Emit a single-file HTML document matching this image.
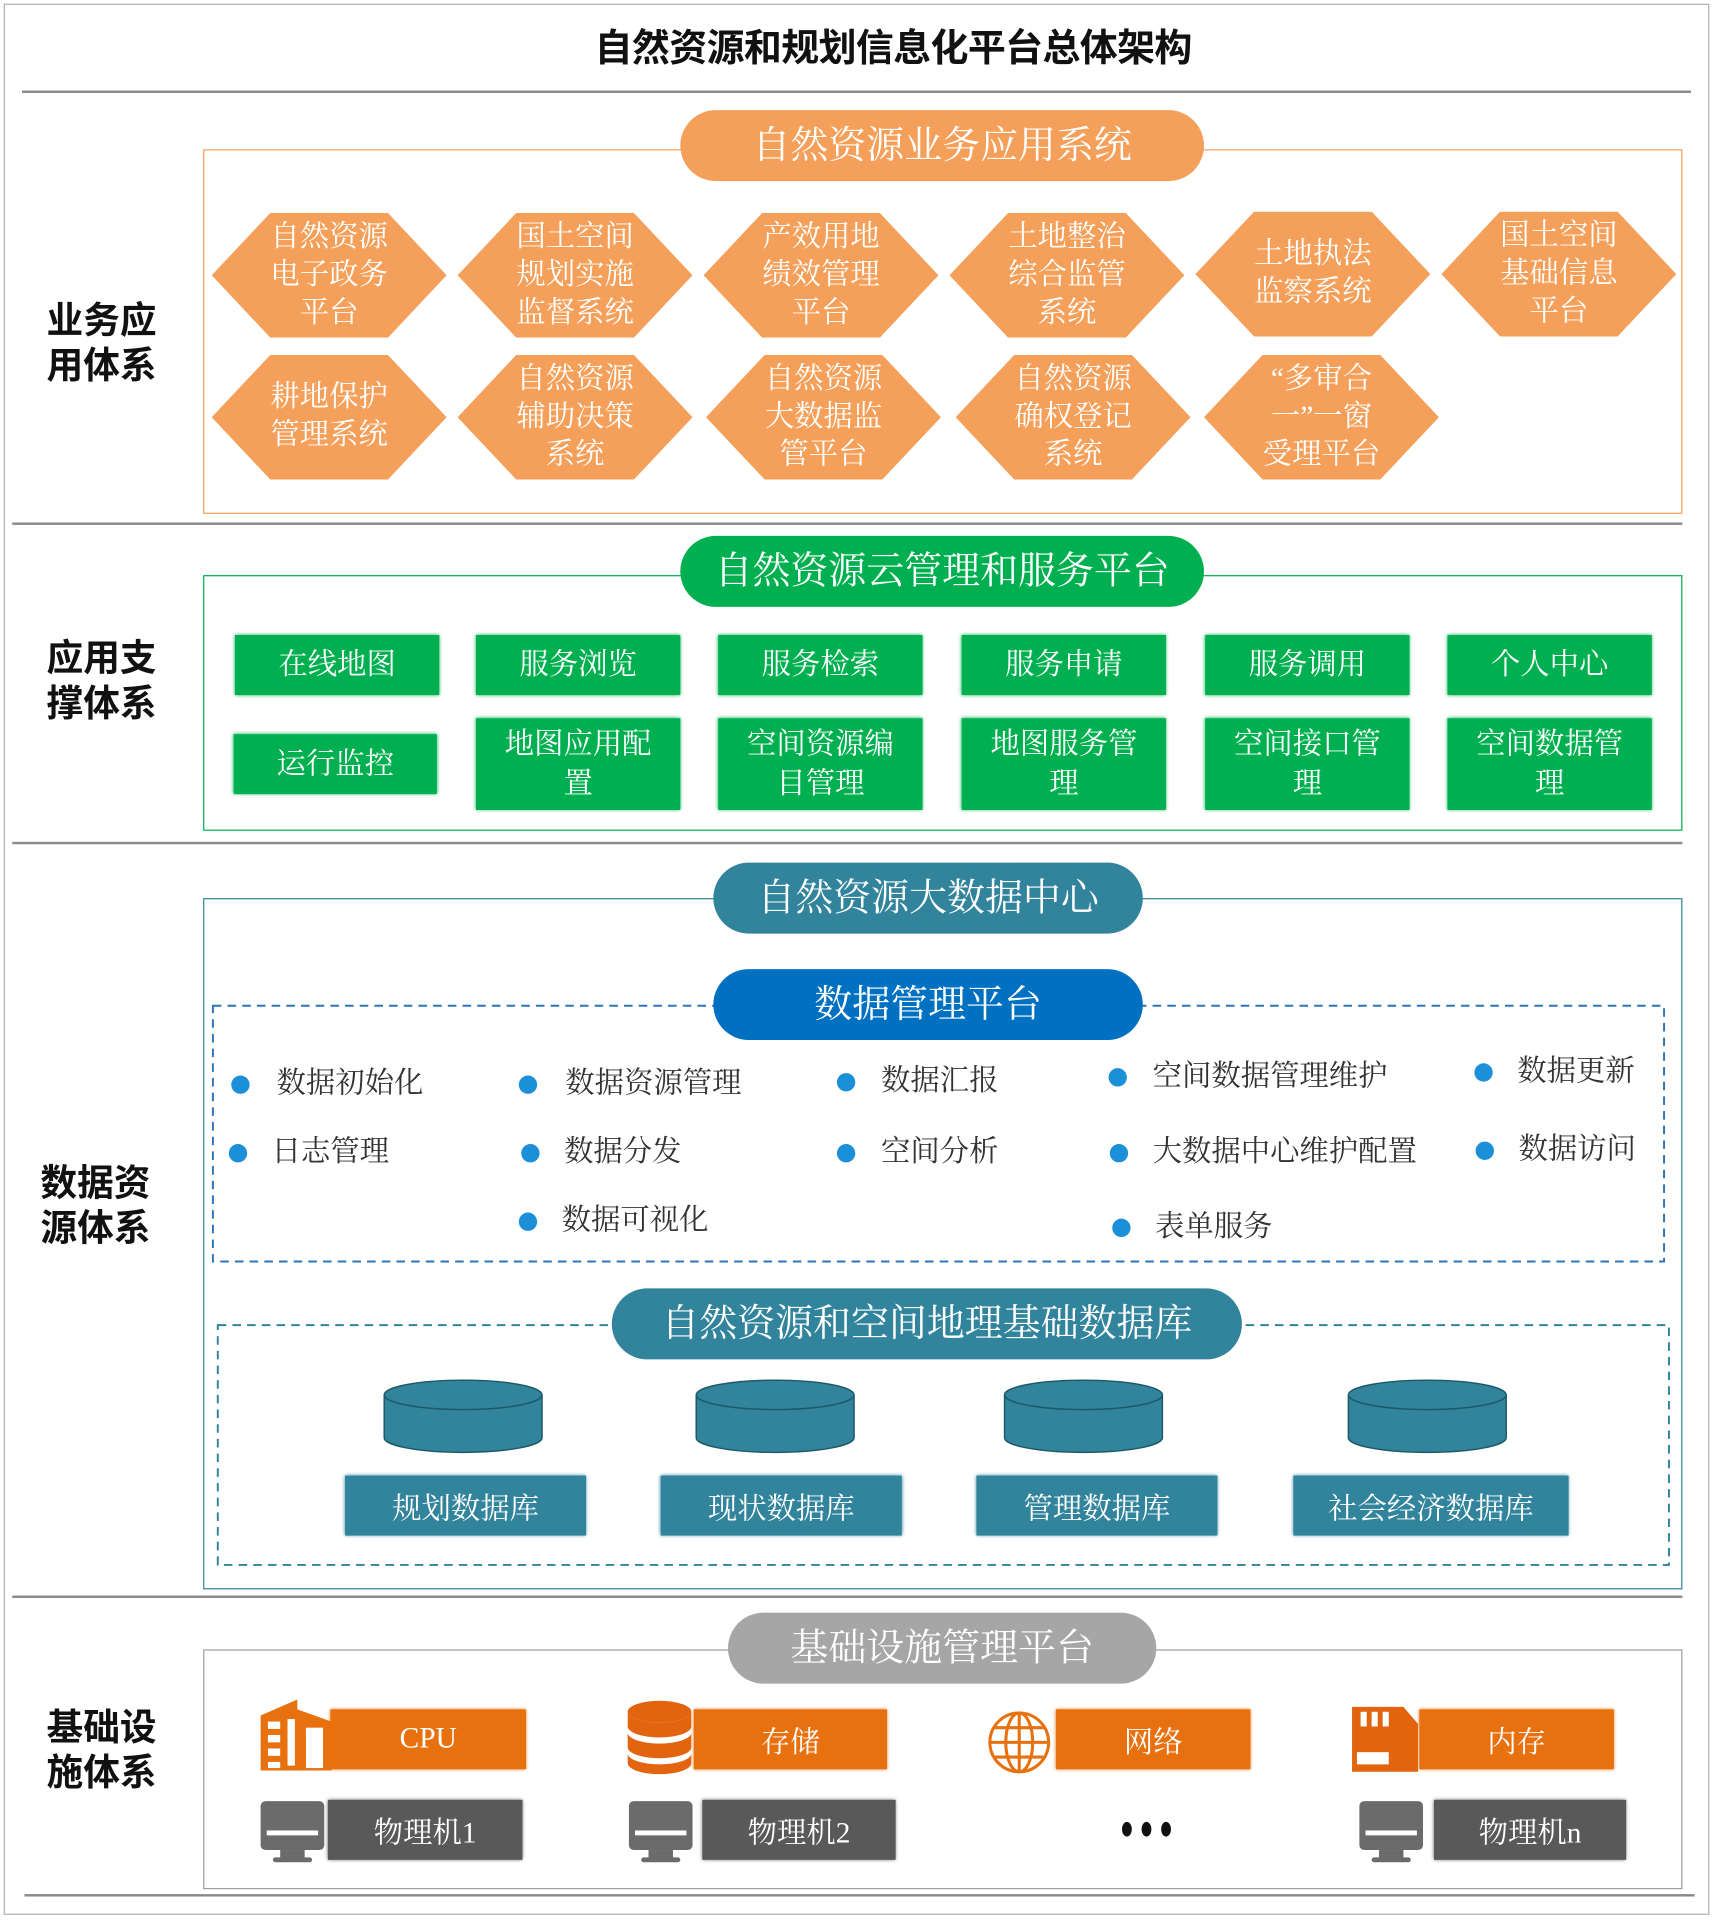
<!DOCTYPE html>
<html><head><meta charset="utf-8">
<style>
html,body{margin:0;padding:0;background:#fff;}
body{width:1713px;height:1920px;overflow:hidden;position:relative;}
#w{position:absolute;left:0;top:0;width:1400px;height:1570px;transform:scale(1.22357);transform-origin:0 0;}
#w div{position:absolute;box-sizing:border-box;}
.sr{font-family:"Liberation Serif","Noto Serif CJK SC",serif;}
.ss{font-family:"Liberation Sans","Noto Sans CJK SC",sans-serif;}
.line{height:2px;background:#8a8a8a;}
.lab{font-size:30px;font-weight:bold;line-height:37px;color:#111;}
.pill{border-radius:29px;color:#fff;font-size:31px;text-align:center;line-height:58px;height:58px;}
.hex{width:192px;height:102px;clip-path:polygon(25% 0,75% 0,100% 50%,75% 100%,25% 100%,0 50%);background:#f4a05a;color:#fff;font-size:24px;line-height:31px;display:flex;align-items:center;justify-content:center;text-align:center;}
.g{background:#00b050;color:#fff;font-size:24px;line-height:32px;display:flex;align-items:center;justify-content:center;text-align:center;box-shadow:0 0 3px #00b050;}
.dot{width:15px;height:15px;border-radius:50%;background:#1b8fd8;}
.it{font-size:24px;color:#333;line-height:30px;white-space:nowrap;}
.tl{background:#31849b;color:#fff;font-size:24px;display:flex;align-items:center;justify-content:center;box-shadow:0 0 3px #31849b;}
.or{background:#e8710f;color:#fff;font-size:24px;display:flex;align-items:center;justify-content:center;box-shadow:0 0 3px #e8710f;}
.gr{background:#595959;color:#fff;font-size:24px;display:flex;align-items:center;justify-content:center;box-shadow:0 0 3px #595959;}
</style></head><body><div id="w">
<div style="left:3px;top:3px;width:1394px;height:1562px;border:1.5px solid #b0b0b0;"></div>
<div class="ss" style="left:280px;top:19px;width:900px;text-align:center;font-size:31px;font-weight:bold;line-height:42px;color:#111;letter-spacing:-0.5px;">自然资源和规划信息化平台总体架构</div>
<div class="line" style="left:18px;top:74px;width:1364px;"></div>

<div class="ss lab" style="left:38px;top:244px;">业务应<br>用体系</div>
<div style="left:166px;top:122px;width:1209px;height:298px;border:1.5px solid #f4a060;"></div>
<div class="sr pill" style="left:556px;top:90px;width:428px;background:#f4a05a;">自然资源业务应用系统</div>
<div class="sr hex" style="left:173px;top:174px;">自然资源<br>电子政务<br>平台</div>
<div class="sr hex" style="left:374px;top:174px;">国土空间<br>规划实施<br>监督系统</div>
<div class="sr hex" style="left:575px;top:174px;">产效用地<br>绩效管理<br>平台</div>
<div class="sr hex" style="left:776px;top:174px;">土地整治<br>综合监管<br>系统</div>
<div class="sr hex" style="left:977px;top:173px;">土地执法<br>监察系统</div>
<div class="sr hex" style="left:1178px;top:173px;">国土空间<br>基础信息<br>平台</div>
<div class="sr hex" style="left:173px;top:290px;">耕地保护<br>管理系统</div>
<div class="sr hex" style="left:374px;top:290px;">自然资源<br>辅助决策<br>系统</div>
<div class="sr hex" style="left:577px;top:290px;">自然资源<br>大数据监<br>管平台</div>
<div class="sr hex" style="left:781px;top:290px;">自然资源<br>确权登记<br>系统</div>
<div class="sr hex" style="left:984px;top:290px;">“多审合<br>一”一窗<br>受理平台</div>
<div class="line" style="left:10px;top:427px;width:1365px;"></div>

<div class="ss lab" style="left:38px;top:520px;">应用支<br>撑体系</div>
<div style="left:166px;top:470px;width:1209px;height:209px;border:1.5px solid #00b050;"></div>
<div class="sr pill" style="left:556px;top:438px;width:428px;background:#00b050;">自然资源云管理和服务平台</div>
<div class="sr g" style="left:192px;top:519px;width:167px;height:49px;">在线地图</div>
<div class="sr g" style="left:389px;top:519px;width:167px;height:49px;">服务浏览</div>
<div class="sr g" style="left:587px;top:519px;width:167px;height:49px;">服务检索</div>
<div class="sr g" style="left:786px;top:519px;width:167px;height:49px;">服务申请</div>
<div class="sr g" style="left:985px;top:519px;width:167px;height:49px;">服务调用</div>
<div class="sr g" style="left:1183px;top:519px;width:167px;height:49px;">个人中心</div>
<div class="sr g" style="left:191px;top:600px;width:166px;height:49px;">运行监控</div>
<div class="sr g" style="left:389px;top:587px;width:167px;height:75px;">地图应用配<br>置</div>
<div class="sr g" style="left:587px;top:587px;width:167px;height:75px;">空间资源编<br>目管理</div>
<div class="sr g" style="left:786px;top:587px;width:167px;height:75px;">地图服务管<br>理</div>
<div class="sr g" style="left:985px;top:587px;width:167px;height:75px;">空间接口管<br>理</div>
<div class="sr g" style="left:1183px;top:587px;width:167px;height:75px;">空间数据管<br>理</div>
<div class="line" style="left:10px;top:688px;width:1365px;"></div>

<div class="ss lab" style="left:33px;top:949px;">数据资<br>源体系</div>
<div style="left:166px;top:734px;width:1209px;height:565px;border:1.5px solid #31859c;"></div>
<div class="sr pill" style="left:583px;top:705px;width:351px;background:#31849b;">自然资源大数据中心</div>
<svg style="position:absolute;left:0;top:0" width="1400" height="1570">
<g fill="none" stroke-width="1.6" stroke-dasharray="7,5">
<rect x="174" y="822" width="1186" height="209" stroke="#2e75b6"/>
<rect x="178" y="1083" width="1186" height="196" stroke="#31849b"/>
</g></svg>
<div class="sr pill" style="left:583px;top:792px;width:351px;background:#0070c0;">数据管理平台</div>
<div class="dot" style="left:189px;top:879px;"></div><div class="sr it" style="left:226px;top:871px;">数据初始化</div>
<div class="dot" style="left:424px;top:879px;"></div><div class="sr it" style="left:462px;top:871px;">数据资源管理</div>
<div class="dot" style="left:684px;top:877px;"></div><div class="sr it" style="left:720px;top:869px;">数据汇报</div>
<div class="dot" style="left:906px;top:873px;"></div><div class="sr it" style="left:942px;top:865px;">空间数据管理维护</div>
<div class="dot" style="left:1205px;top:869px;"></div><div class="sr it" style="left:1240px;top:861px;">数据更新</div>
<div class="dot" style="left:187px;top:935px;"></div><div class="sr it" style="left:222px;top:927px;">日志管理</div>
<div class="dot" style="left:426px;top:935px;"></div><div class="sr it" style="left:461px;top:927px;">数据分发</div>
<div class="dot" style="left:684px;top:935px;"></div><div class="sr it" style="left:720px;top:927px;">空间分析</div>
<div class="dot" style="left:907px;top:935px;"></div><div class="sr it" style="left:942px;top:927px;">大数据中心维护配置</div>
<div class="dot" style="left:1206px;top:933px;"></div><div class="sr it" style="left:1241px;top:925px;">数据访问</div>
<div class="dot" style="left:424px;top:991px;"></div><div class="sr it" style="left:459px;top:983px;">数据可视化</div>
<div class="dot" style="left:909px;top:996px;"></div><div class="sr it" style="left:944px;top:988px;">表单服务</div>

<div class="sr pill" style="left:500px;top:1053px;width:515px;background:#31849b;">自然资源和空间地理基础数据库</div>
<svg style="position:absolute;left:0;top:0" width="1400" height="1570">
<g fill="#31849b" stroke="#1d5968" stroke-width="1.2">
<path d="M314 1140 v35 a64.5 12 0 0 0 129 0 v-35"/><ellipse cx="378.5" cy="1140" rx="64.5" ry="12"/>
<path d="M569 1140 v35 a64.5 12 0 0 0 129 0 v-35"/><ellipse cx="633.5" cy="1140" rx="64.5" ry="12"/>
<path d="M821 1140 v35 a64.5 12 0 0 0 129 0 v-35"/><ellipse cx="885.5" cy="1140" rx="64.5" ry="12"/>
<path d="M1102 1140 v35 a64.5 12 0 0 0 129 0 v-35"/><ellipse cx="1166.5" cy="1140" rx="64.5" ry="12"/>
</g>
<g fill="#e8710f">
<path d="M213 1447 v-45 l30 -13 v8 l28 10 v40 z"/>
</g>
<g fill="#fff"><rect x="219" y="1407" width="10" height="6"/><rect x="219" y="1418" width="10" height="6"/><rect x="219" y="1429" width="10" height="6"/><rect x="235" y="1405" width="6" height="38"/><rect x="219" y="1440" width="10" height="5"/><rect x="250" y="1412" width="14" height="33"/></g>
<g fill="#e8710f"><rect x="246" y="1418" width="4" height="27"/></g>
<g fill="#e2640f">
<ellipse cx="539" cy="1399" rx="26" ry="9"/>
<path d="M513 1399 v12 a26 9 0 0 0 52 0 v-12 a26 9 0 0 1 -52 0z"/>
<path d="M513 1416 v12 a26 9 0 0 0 52 0 v-12 a26 9 0 0 1 -52 0z"/>
<path d="M513 1433 v8 a26 9 0 0 0 52 0 v-8 a26 9 0 0 1 -52 0z"/>
</g>
<g fill="none" stroke="#e8710f" stroke-width="2.5">
<circle cx="833" cy="1424" r="24"/><ellipse cx="833" cy="1424" rx="11" ry="24"/><line x1="833" y1="1400" x2="833" y2="1448"/><line x1="809" y1="1424" x2="857" y2="1424"/><line x1="813" y1="1412" x2="853" y2="1412"/><line x1="813" y1="1436" x2="853" y2="1436"/>
</g>
<g fill="#e2640f"><path d="M1105 1395 h42 l12 14 v39 h-54 z"/></g>
<g fill="#fff"><rect x="1112" y="1399" width="5" height="12"/><rect x="1121" y="1399" width="5" height="12"/><rect x="1130" y="1399" width="5" height="12"/><rect x="1109" y="1432" width="26" height="10"/></g>
<g fill="#6b6b6b">
<rect x="213" y="1472" width="52" height="40" rx="4"/><rect x="229" y="1512" width="20" height="8"/><rect x="223" y="1518" width="32" height="4" rx="2"/>
<rect x="514" y="1472" width="52" height="40" rx="4"/><rect x="530" y="1512" width="20" height="8"/><rect x="524" y="1518" width="32" height="4" rx="2"/>
<rect x="1111" y="1472" width="52" height="40" rx="4"/><rect x="1127" y="1512" width="20" height="8"/><rect x="1121" y="1518" width="32" height="4" rx="2"/>
</g>
<g fill="#fff"><rect x="218" y="1496" width="42" height="4"/><rect x="519" y="1496" width="42" height="4"/><rect x="1116" y="1496" width="42" height="4"/></g>
<g fill="#111"><ellipse cx="921" cy="1495" rx="4" ry="6"/><ellipse cx="937" cy="1495" rx="4" ry="6"/><ellipse cx="953" cy="1495" rx="4" ry="6"/></g>
</svg>
<div class="sr tl" style="left:282px;top:1206px;width:197px;height:49px;">规划数据库</div>
<div class="sr tl" style="left:540px;top:1206px;width:197px;height:49px;">现状数据库</div>
<div class="sr tl" style="left:798px;top:1206px;width:197px;height:49px;">管理数据库</div>
<div class="sr tl" style="left:1057px;top:1206px;width:225px;height:49px;">社会经济数据库</div>
<div class="line" style="left:10px;top:1304px;width:1365px;"></div>

<div class="ss lab" style="left:38px;top:1394px;">基础设<br>施体系</div>
<div style="left:166px;top:1348px;width:1209px;height:196px;border:1.5px solid #a0a0a0;"></div>
<div class="sr pill" style="left:595px;top:1318px;width:350px;background:#a6a6a6;">基础设施管理平台</div>
<div class="sr or" style="left:270px;top:1397px;width:160px;height:49px;">CPU</div>
<div class="sr or" style="left:567px;top:1397px;width:158px;height:49px;">存储</div>
<div class="sr or" style="left:863px;top:1397px;width:159px;height:49px;">网络</div>
<div class="sr or" style="left:1160px;top:1397px;width:159px;height:49px;">内存</div>
<div class="sr gr" style="left:268px;top:1471px;width:159px;height:49px;">物理机1</div>
<div class="sr gr" style="left:574px;top:1471px;width:158px;height:49px;">物理机2</div>
<div class="sr gr" style="left:1172px;top:1471px;width:157px;height:49px;">物理机n</div>
<div class="line" style="left:20px;top:1548px;width:1365px;"></div>
</div></body></html>
